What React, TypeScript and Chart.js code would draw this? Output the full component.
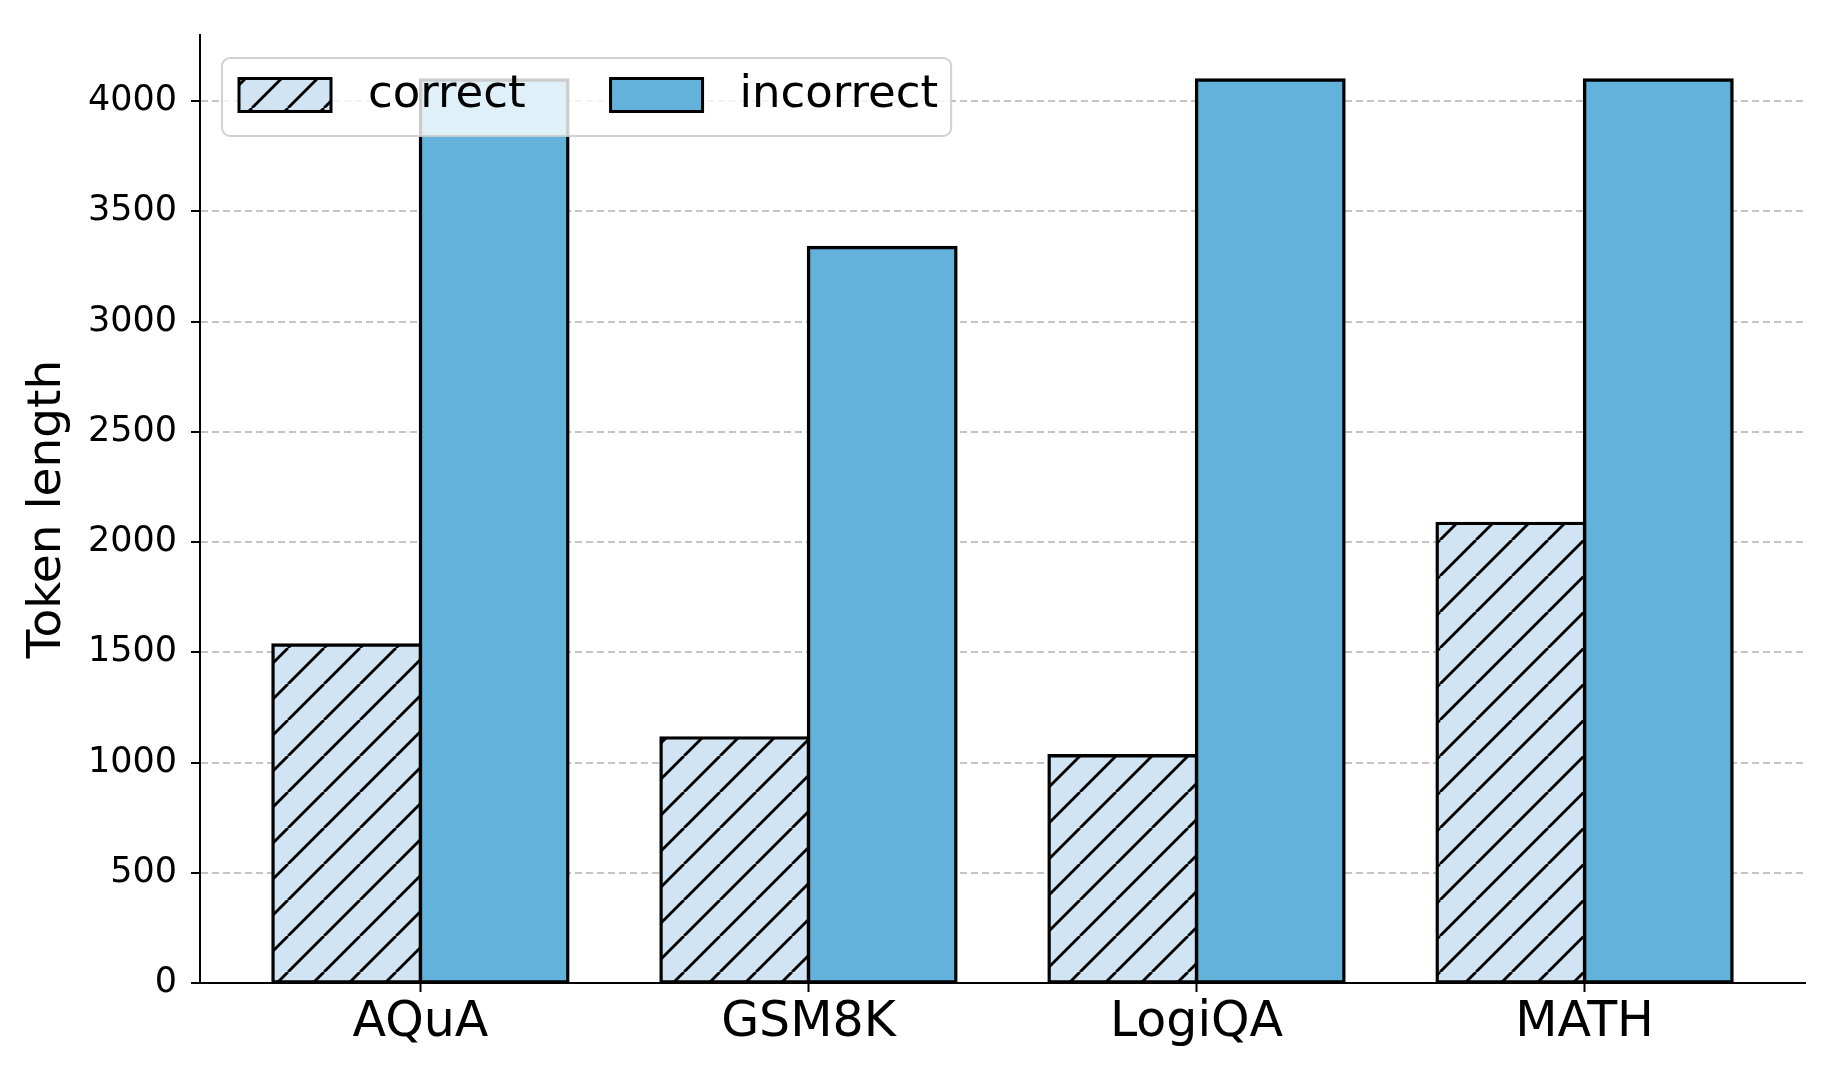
import React, { useEffect, useRef } from 'react';
import { Chart, registerables } from 'chart.js';

Chart.register(...registerables);

const categories = ['AQuA', 'GSM8K', 'LogiQA', 'MATH'];
const seriesLabels = ['correct', 'incorrect'];
const correctLengths = [1533, 1112, 1031, 2085];
const incorrectLengths = [4096, 3336, 4096, 4096];
const yTicks = [0, 500, 1000, 1500, 2000, 2500, 3000, 3500, 4000];
const yMax = 4300;

const FONT = "'DejaVu Sans', 'Liberation Sans', sans-serif";
const LIGHT_BLUE = '#d0e4f3';
const BLUE = '#62b2dc';

// '/' hatch like matplotlib
function makeHatch(): CanvasPattern | string {
  const size = 36;
  const c = document.createElement('canvas');
  c.width = size;
  c.height = size;
  const g = c.getContext('2d');
  if (!g) return LIGHT_BLUE;
  g.fillStyle = LIGHT_BLUE;
  g.fillRect(0, 0, size, size);
  g.strokeStyle = '#000';
  g.lineWidth = 2.8;
  for (const off of [-size, 0, size]) {
    g.beginPath();
    g.moveTo(off, size);
    g.lineTo(off + size, 0);
    g.stroke();
  }
  return g.createPattern(c, 'repeat') || LIGHT_BLUE;
}

// legend box drawn over the bars (semi transparent frame)
const legendBox = {
  id: 'legendBox',
  afterDatasetsDraw(chart: any) {
    const { ctx, chartArea } = chart;
    const fontSize = 45;
    const x0 = chartArea.left + 22;
    const y0 = chartArea.top + 23;
    const h = 78;
    const sw = 92;
    const sh = 33;
    ctx.save();
    ctx.font = `${fontSize}px ${FONT}`;
    const widths = chart.data.datasets.map((d: any) => ctx.measureText(d.label).width);
    let w = 17;
    widths.forEach((tw: number, i: number) => {
      w += sw + 37 + tw + (i < widths.length - 1 ? 85 : 13);
    });
    ctx.beginPath();
    ctx.roundRect(x0, y0, w, h, 8);
    ctx.fillStyle = 'rgba(255,255,255,0.8)';
    ctx.fill();
    ctx.lineWidth = 2;
    ctx.strokeStyle = 'rgba(204,204,204,0.9)';
    ctx.stroke();

    let x = x0 + 17;
    const cy = y0 + h / 2 - 2;
    chart.data.datasets.forEach((d: any, i: number) => {
      ctx.fillStyle = d.backgroundColor;
      ctx.fillRect(x, cy - sh / 2, sw, sh);
      ctx.lineWidth = 3;
      ctx.strokeStyle = '#000';
      ctx.strokeRect(x, cy - sh / 2, sw, sh);
      x += sw + 37;
      ctx.fillStyle = '#000';
      ctx.textAlign = 'left';
      ctx.textBaseline = 'middle';
      ctx.fillText(d.label, x, cy);
      x += widths[i] + 85;
    });
    ctx.restore();
  },
};

const App: React.FC = () => {
  const canvasRef = useRef<HTMLCanvasElement | null>(null);

  useEffect(() => {
    document.body.style.margin = '0';
    if (!canvasRef.current) return;
    const ctx = canvasRef.current.getContext('2d');
    if (!ctx) return;

    const hatch = makeHatch();
    const barStyle = {
      borderColor: '#000',
      borderWidth: 3.4,
      borderSkipped: false,
      inflateAmount: 1.7,
      categoryPercentage: 0.76,
      barPercentage: 1,
    };

    const chart = new Chart(ctx, {
      type: 'bar',
      data: {
        datasets: [
          {
            label: seriesLabels[0],
            data: categories.map((_, i) => ({ x: i, y: correctLengths[i] })),
            backgroundColor: hatch,
            ...barStyle,
          },
          {
            label: seriesLabels[1],
            data: categories.map((_, i) => ({ x: i, y: incorrectLengths[i] })),
            backgroundColor: BLUE,
            ...barStyle,
          },
        ],
      },
      options: {
        animation: false,
        responsive: false,
        layout: { padding: { top: 32, right: 31, left: 0, bottom: 0 } },
        plugins: {
          legend: { display: false },
          tooltip: { enabled: false },
        },
        scales: {
          x: {
            type: 'linear',
            min: -0.568,
            max: 3.568,
            bounds: 'data',
            offset: false,
            afterBuildTicks: (s: any) => {
              s.ticks = categories.map((_, i) => ({ value: i }));
            },
            ticks: {
              autoSkip: false,
              maxRotation: 0,
              padding: 2,
              color: '#000',
              font: { family: FONT, size: 49 },
              callback: (v: any) => categories[v as number] ?? '',
            },
            grid: {
              offset: false,
              drawOnChartArea: false,
              tickColor: '#000',
              tickLength: 9,
              tickWidth: 2,
            },
            border: { display: true, color: '#000', width: 2 },
            afterFit: (s: any) => {
              s.height = 97;
            },
          },
          y: {
            min: 0,
            max: yMax,
            bounds: 'data',
            afterBuildTicks: (s: any) => {
              s.ticks = yTicks.map((v) => ({ value: v }));
            },
            ticks: {
              padding: 14,
              color: '#000',
              font: { family: FONT, size: 35 },
              callback: (v: any) => String(v),
            },
            grid: {
              color: '#c4c4c4',
              lineWidth: 2,
              tickColor: '#000',
              tickLength: 9,
              tickWidth: 2,
            },
            border: { display: true, color: '#000', width: 2, dash: [7, 4] },
            title: {
              display: true,
              text: 'Token length',
              color: '#000',
              font: { family: FONT, size: 47 },
              padding: { top: 20, bottom: 0 },
            },
            afterFit: (s: any) => {
              s.width = 200;
            },
          },
        },
      },
      plugins: [legendBox],
    } as any);

    return () => {
      chart.destroy();
    };
  }, []);

  return (
    <div style={{ width: 1836, height: 1080, background: '#fff' }}>
      <canvas ref={canvasRef} width={1836} height={1080} />
    </div>
  );
};

export default App;
